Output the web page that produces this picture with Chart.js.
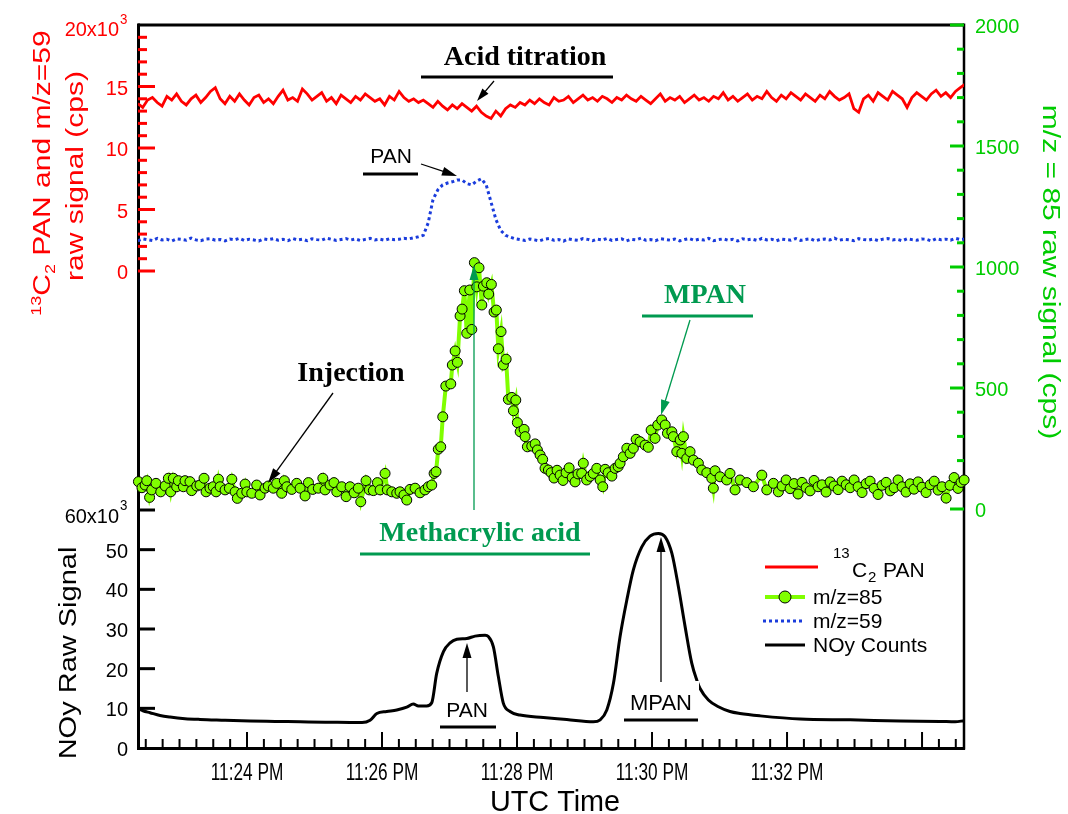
<!DOCTYPE html>
<html><head><meta charset="utf-8">
<script src="https://cdn.jsdelivr.net/npm/chart.js@4.4.0/dist/chart.umd.min.js"></script>
<style>html,body{margin:0;padding:0;background:#fff;}canvas{display:block;}</style>
</head><body>
<canvas id="c" width="1068" height="814"></canvas>
<script>
// time axis: seconds after 11:22:00 PM UTC
const timeTickValues = [120, 240, 360, 480, 600];
const timeTickLabels = ['11:24 PM', '11:26 PM', '11:28 PM', '11:30 PM', '11:32 PM'];
const redTickValues = [0, 5, 10, 15, 20];          // x10^3 cps
const redTickLabels = ['0', '5', '10', '15', '20x10'];
const noyTickValues = [0, 10, 20, 30, 40, 50, 60]; // x10^3
const noyTickLabels = ['0', '10', '20', '30', '40', '50', '60x10'];
const greenTickValues = [0, 500, 1000, 1500, 2000];
const greenTickLabels = ['0', '500', '1000', '1500', '2000'];

// 13C2 PAN and m/z=59 (CIMS), seconds after 23:22:00
const cimsTime = [23.0,27.3,31.6,35.9,40.2,44.5,48.8,53.1,57.4,61.7,66.0,70.3,74.6,78.9,83.2,87.5,91.8,96.1,100.4,104.7,
109.0,113.3,117.6,121.9,126.2,130.5,134.8,139.1,143.4,147.7,152.0,156.3,160.6,164.9,169.2,173.5,177.8,182.1,186.4,190.7,
195.0,199.3,203.6,207.9,212.2,216.5,220.8,225.1,229.4,233.7,238.0,242.3,246.6,250.9,255.2,259.5,263.8,268.1,272.4,276.7,
281.0,285.3,289.6,293.9,298.2,302.5,306.8,311.1,315.4,319.7,324.0,328.3,332.6,336.9,341.2,345.5,349.8,354.1,358.4,362.7,
367.0,371.3,375.6,379.9,384.2,388.5,392.8,397.1,401.4,405.7,410.0,414.3,418.6,422.9,427.2,431.5,435.8,440.1,444.4,448.7,
453.0,457.3,461.6,465.9,470.2,474.5,478.8,483.1,487.4,491.7,496.0,500.3,504.6,508.9,513.2,517.5,521.8,526.1,530.4,534.7,
539.0,543.3,547.6,551.9,556.2,560.5,564.8,569.1,573.4,577.7,582.0,586.3,590.6,594.9,599.2,603.5,607.8,612.1,616.4,620.7,
625.0,629.3,633.6,637.9,642.2,646.5,650.8,655.1,659.4,663.7,668.0,672.3,676.6,680.9,685.2,689.5,693.8,698.1,702.4,706.7,
711.0,715.3,719.6,723.9,728.2,732.5,736.8,741.1,745.4,749.7,754.0,758.3];
const pan13C2 = [
13.6,13.3,13.9,14.1,13.7,13.4,14.2,13.9,14.4,13.8,13.5,14.0,14.3,13.7,14.1,14.6,14.9,14.0,13.6,14.2,
13.8,14.4,13.9,13.5,14.1,14.3,13.7,14.0,13.6,14.2,14.7,13.9,14.1,13.8,14.8,14.4,13.9,14.2,14.5,13.8,
14.1,13.6,14.3,14.0,13.7,14.2,13.9,14.4,14.1,13.8,14.0,13.5,14.2,13.9,14.6,14.1,13.8,14.0,13.7,13.9,
13.6,13.3,13.8,13.4,13.1,13.5,13.2,13.6,13.3,13.0,13.4,12.9,12.6,12.4,13.0,12.6,13.2,13.5,13.3,13.7,
13.5,13.9,13.6,14.0,13.7,13.5,14.1,13.8,13.9,14.2,13.7,14.0,14.3,13.9,14.1,13.8,14.2,14.0,13.7,14.1,
13.9,14.3,14.0,13.8,14.2,13.9,13.6,14.0,14.4,13.8,14.1,13.9,14.2,13.7,14.0,14.3,13.9,14.1,13.8,14.2,
14.0,14.5,13.9,14.2,13.8,14.1,14.4,13.9,14.2,14.0,14.6,14.1,13.8,14.3,14.0,14.5,14.2,13.9,14.4,14.1,
13.8,14.3,14.0,14.6,14.2,13.9,14.1,14.4,13.2,12.9,14.0,14.3,13.8,14.5,14.2,13.9,14.6,14.3,14.0,13.3,
14.1,14.5,14.2,13.9,14.4,14.7,14.2,14.5,14.1,14.6,14.9,15.2];
const mz59 = [
2.45,2.62,2.55,2.48,2.66,2.52,2.58,2.44,2.61,2.57,2.50,2.68,2.53,2.47,2.59,2.63,2.51,2.56,2.45,2.60,
2.54,2.66,2.49,2.58,2.52,2.44,2.61,2.55,2.63,2.50,2.57,2.47,2.64,2.53,2.59,2.46,2.62,2.55,2.51,2.67,
2.58,2.49,2.56,2.63,2.52,2.60,2.48,2.57,2.65,2.53,2.59,2.50,2.62,2.55,2.58,2.66,2.61,2.70,2.78,2.90,
3.9,5.8,6.6,7.0,7.15,7.25,7.4,7.4,7.1,7.0,7.3,7.5,7.0,5.6,4.2,3.3,2.9,2.75,2.62,2.55,
2.48,2.60,2.53,2.45,2.58,2.64,2.50,2.56,2.43,2.61,2.54,2.49,2.63,2.57,2.46,2.59,2.52,2.65,2.48,2.56,
2.61,2.44,2.58,2.53,2.67,2.50,2.55,2.47,2.62,2.57,2.51,2.60,2.45,2.56,2.63,2.49,2.58,2.52,2.66,2.47,
2.55,2.61,2.50,2.57,2.44,2.62,2.54,2.59,2.48,2.65,2.53,2.58,2.46,2.60,2.55,2.51,2.64,2.49,2.57,2.62,
2.45,2.56,2.60,2.52,2.67,2.50,2.58,2.54,2.47,2.63,2.56,2.51,2.60,2.48,2.59,2.64,2.53,2.57,2.46,2.62,
2.55,2.50,2.61,2.58,2.45,2.63,2.54,2.59,2.51,2.66,2.56,2.60];

// m/z=85 (cps)
const mz85Time = [23.5,26.6,29.4,30.9,33.4,35.3,39.1,43.3,47.2,50.1,52.2,54.5,57.5,59.0,63.4,64.9,69.3,70.8,75.3,78.2,81.8,83.6,87.1,90.0,92.5,94.6,96.1,100.5,104.3,106.5,109.4,111.4,115.3,118.3,119.8,124.2,128.6,131.6,136.0,138.9,143.4,146.4,150.8,153.2,155.4,159.8,164.2,167.2,171.6,174.6,178.4,183.4,187.4,189.4,193.8,197.3,199.8,204.2,208.1,211.6,215.2,218.9,221.1,225.8,228.7,232.3,235.9,238.3,242.7,244.7,248.7,253.1,256.0,259.5,262.0,264.9,269.4,273.8,278.2,281.2,284.2,286.3,288.0,290.0,292.2,294.0,296.7,301.1,302.5,305.0,307.0,309.4,311.2,313.2,315.3,318.0,319.8,322.1,324.2,326.2,328.7,330.1,333.1,334.8,337.2,339.6,341.6,343.4,345.8,347.8,350.3,352.3,355.4,356.8,358.9,360.3,362.8,366.3,367.2,369.2,373.1,376.1,378.1,380.5,382.8,384.9,387.9,390.3,392.9,395.6,398.3,400.9,403.6,406.3,409.0,411.6,414.2,417.5,418.9,421.9,425.0,427.8,430.9,433.9,436.2,438.3,441.0,444.3,447.2,449.9,451.6,454.5,457.6,460.5,463.4,465.9,469.4,473.8,476.7,479.2,482.7,485.1,488.6,491.7,493.7,497.6,499.0,502.0,505.0,506.5,507.9,510.9,513.8,516.8,521.2,524.2,528.7,533.1,534.5,536.0,540.5,546.4,549.3,553.8,558.2,564.3,570.1,577.6,582.0,587.9,592.3,595.6,599.2,602.7,606.3,609.8,613.3,617.0,620.5,624.0,627.6,631.2,634.7,638.3,641.8,645.4,648.9,652.6,656.1,659.6,663.2,666.7,670.3,673.8,677.4,680.9,684.5,688.1,691.7,695.2,698.7,702.3,705.8,709.4,712.9,716.5,720.0,723.6,727.2,730.8,734.3,737.8,741.4,744.9,748.5,752.0,754.7,757.4];
const mz85 = [113,88,99,117,48,79,106,71,95,127,71,127,92,117,92,117,113,76,95,99,127,71,86,92,71,123,92,79,86,123,71,44,65,103,71,65,99,58,86,95,86,106,65,117,92,81,106,86,54,109,81,86,127,79,99,109,71,92,51,92,67,86,30,117,79,76,109,79,147,79,71,65,71,58,37,81,86,67,79,92,99,147,154,247,257,381,508,517,595,653,606,798,826,902,726,905,742,1018,918,997,843,921,935,888,928,814,822,662,733,595,619,453,461,406,450,357,319,329,299,257,260,269,244,223,205,168,161,150,128,160,140,118,150,170,130,112,145,147,189,120,135,147,168,120,92,164,150,136,168,175,189,216,251,230,251,288,278,264,255,326,292,347,368,347,313,319,299,237,285,230,299,209,237,202,189,161,150,127,86,158,133,120,147,79,120,109,92,140,79,106,71,95,120,84,105,62,110,88,75,118,92,100,70,112,95,80,115,100,88,120,92,68,105,115,85,60,98,110,75,88,120,92,70,104,82,112,90,68,100,115,78,92,45,98,130,85,110,120];

// NOy counts (x10^3)
const noyTime = [23.1,27.5,33.8,42.7,51.6,64.9,78.2,100.5,122.7,144.9,167.2,189.4,211.6,222.3,229.4,235.4,244.2,253.1,262.0,267.8,272.3,279.7,284.2,288.6,294.6,300.5,306.5,315.3,322.7,331.6,334.5,339.0,343.4,347.8,353.8,362.7,383.4,404.2,427.8,433.9,439.8,445.7,451.6,457.6,463.4,470.9,478.2,485.6,491.5,497.6,503.4,509.4,515.3,519.8,522.7,530.1,539.0,549.3,558.2,576.1,611.6,656.1,700.5,736.0,749.4,757.4];
const noyCounts = [9.9,9.4,8.9,8.2,7.8,7.4,7.2,7.0,6.8,6.7,6.6,6.5,6.45,6.4,7.0,8.7,9.2,9.6,10.3,11.1,10.6,10.6,11.4,18.8,24.3,26.5,27.4,27.6,28.2,28.4,28.1,25.5,18.0,11.3,9.2,8.3,7.7,7.2,6.6,7.1,9.6,16.3,28.1,37.3,44.9,50.7,53.4,54.1,53.3,49.1,40.7,30.6,21.4,17.1,15.0,12.1,10.4,9.2,8.7,8.1,7.3,7.1,6.8,6.7,6.6,6.9];

const pts = (t, v) => v.map((y, i) => ({x: t[i], y}));

const SANS = "'Liberation Sans', Arial, sans-serif";
const SERIF = "'Liberation Serif', 'Times New Roman', serif";
const RED = '#ff0000', GRN = '#00cc00', DKG = '#009a50', LIME = '#80ff00', BLUE = '#1a3cdc';

function seg(ctx, x1, y1, x2, y2) { ctx.beginPath(); ctx.moveTo(x1, y1); ctx.lineTo(x2, y2); ctx.stroke(); }
function text(ctx, s, x, y, font, color, align, sx, base) {
  ctx.save(); ctx.translate(x, y); ctx.scale(sx || 1, 1);
  ctx.font = font; ctx.fillStyle = color; ctx.textAlign = align || 'left';
  ctx.textBaseline = base || 'alphabetic'; ctx.fillText(s, 0, 0); ctx.restore();
}
function runs(ctx, rs, cx, cy, rot, sx, color) {
  ctx.save(); ctx.translate(cx, cy); ctx.scale(sx, 1); ctx.rotate(rot);
  ctx.fillStyle = color; ctx.textAlign = 'left'; ctx.textBaseline = 'alphabetic';
  let w = 0; rs.forEach(r => { ctx.font = r.f; r.w = ctx.measureText(r.t).width; w += r.w; });
  let x = -w / 2; rs.forEach(r => { ctx.font = r.f; ctx.fillText(r.t, x, r.dy || 0); x += r.w; });
  ctx.restore();
}
function arrow(ctx, x1, y1, x2, y2, color, lw, hl, hw) {
  const a = Math.atan2(y2 - y1, x2 - x1), c = Math.cos(a), s = Math.sin(a);
  ctx.save(); ctx.strokeStyle = color; ctx.fillStyle = color; ctx.lineWidth = lw;
  seg(ctx, x1, y1, x2 - c * hl * 0.8, y2 - s * hl * 0.8);
  ctx.beginPath(); ctx.moveTo(x2, y2);
  ctx.lineTo(x2 - c * hl - s * hw / 2, y2 - s * hl + c * hw / 2);
  ctx.lineTo(x2 - c * hl + s * hw / 2, y2 - s * hl - c * hw / 2);
  ctx.closePath(); ctx.fill(); ctx.restore();
}

const deco = {
  id: 'deco',
  beforeDatasetsDraw(chart) {
    const {ctx, chartArea: a, scales} = chart;
    const X = scales.x, R = scales.yR, N = scales.yN, G = scales.yG;
    ctx.save(); ctx.lineCap = 'butt';
    ctx.strokeStyle = '#000';
    ctx.lineWidth = 3; seg(ctx, a.left + 0.5, a.top - 1.5, a.left + 0.5, a.bottom + 1.5);
    seg(ctx, a.left - 1, a.bottom + 0.5, a.right + 1, a.bottom + 0.5);
    seg(ctx, a.left, a.top, a.right, a.top);
    ctx.lineWidth = 2.5; seg(ctx, a.right, a.top - 1.5, a.right, a.bottom + 1.5);
    ctx.strokeStyle = RED; ctx.lineWidth = 3;
    for (let v = 0; v < 20; v++) { const y = R.getPixelForValue(v); seg(ctx, a.left, y, a.left + (v % 5 === 0 ? 17 : 9), y); }
    ctx.strokeStyle = '#000';
    noyTickValues.forEach(v => { if (v > 0) { const y = N.getPixelForValue(v); seg(ctx, a.left, y, a.left + 17, y); } });
    ctx.lineWidth = 2;
    for (let s = 30; s <= X.max; s += 15) { const x = X.getPixelForValue(s); seg(ctx, x, a.bottom, x, a.bottom - (s % 120 === 0 ? 16 : 9)); }
    ctx.strokeStyle = GRN; ctx.lineWidth = 3;
    for (let v = 0; v <= 2000; v += 100) { const y = G.getPixelForValue(v); seg(ctx, a.right, y, a.right - (v % 500 === 0 ? 14 : 7), y); }
    ctx.restore();

    const tf = '21px ' + SANS;
    redTickValues.forEach((v, i) => {
      const y = R.getPixelForValue(v);
      if (i === redTickValues.length - 1) {
        text(ctx, redTickLabels[i], 119, y + 11, tf, RED, 'right', 0.95);
        text(ctx, '3', 120, y - 1, '14px ' + SANS, RED, 'left', 0.95);
      } else text(ctx, redTickLabels[i], 128, y + 8, tf, RED, 'right', 0.95);
    });
    noyTickValues.forEach((v, i) => {
      const y = N.getPixelForValue(v);
      if (i === noyTickValues.length - 1) {
        text(ctx, noyTickLabels[i], 119, y + 13, tf, '#000', 'right', 0.95);
        text(ctx, '3', 120, y, '14px ' + SANS, '#000', 'left', 0.95);
      } else text(ctx, noyTickLabels[i], 128, y + 8, tf, '#000', 'right', 0.95);
    });
    greenTickValues.forEach((v, i) => {
      text(ctx, greenTickLabels[i], 975, G.getPixelForValue(v) + 8, tf, GRN, 'left', 0.95);
    });
    timeTickValues.forEach((v, i) => {
      text(ctx, timeTickLabels[i], X.getPixelForValue(v), 780, '23px ' + SANS, '#000', 'center', 0.75);
    });

    const F = px => px + 'px ' + SANS;
    text(ctx, 'UTC Time', 555, 811, F(30), '#000', 'center', 0.96);
    runs(ctx, [{t: '13', f: F(18), dy: -11}, {t: 'C', f: F(30)}, {t: '2', f: F(18), dy: 6}, {t: ' PAN and m/z=59', f: F(30)}], 50, 173, -Math.PI / 2, 0.82, RED);
    runs(ctx, [{t: 'raw signal (cps)', f: F(30)}], 83, 176, -Math.PI / 2, 0.82, RED);
    runs(ctx, [{t: 'NOy Raw Signal', f: F(29)}], 76, 653, -Math.PI / 2, 0.82, '#000');
    runs(ctx, [{t: 'm/z = 85 raw signal (cps)', f: F(30)}], 1043, 272, Math.PI / 2, 0.82, GRN);
  },
  afterDatasetsDraw(chart) {
    const ctx = chart.ctx;
    ctx.save(); ctx.lineCap = 'butt';
    const BF = 'bold 28px ' + SERIF, SF = '21px ' + SANS;
    text(ctx, 'Acid titration', 525, 65, BF, '#000', 'center');
    ctx.strokeStyle = '#000'; ctx.lineWidth = 3; seg(ctx, 421, 77, 613, 77);
    arrow(ctx, 494, 81, 477, 101, '#000', 1.3, 13, 8);
    text(ctx, 'PAN', 391, 163, SF, '#000', 'center');
    ctx.lineWidth = 3; seg(ctx, 363, 174, 418, 174);
    arrow(ctx, 421, 164, 457, 176, '#000', 1.3, 15, 9);
    text(ctx, 'Injection', 351, 381, BF, '#000', 'center');
    arrow(ctx, 333, 393, 268, 483, '#000', 1.3, 15, 9);
    text(ctx, 'MPAN', 705, 303, BF, DKG, 'center');
    ctx.strokeStyle = DKG; ctx.lineWidth = 3; seg(ctx, 642, 316, 753, 316);
    arrow(ctx, 690, 320, 661, 415, DKG, 1.3, 15, 9);
    text(ctx, 'Methacrylic acid', 480, 541, BF, DKG, 'center');
    ctx.strokeStyle = DKG; ctx.lineWidth = 3; seg(ctx, 360, 554, 590, 554);
    arrow(ctx, 474, 510, 474, 265, DKG, 1.3, 15, 9);
    ctx.fillStyle = '#fff'; ctx.fillRect(440, 695, 57, 34);
    text(ctx, 'PAN', 467, 717, SF, '#000', 'center');
    ctx.strokeStyle = '#000'; ctx.lineWidth = 3; seg(ctx, 440, 727, 496, 727);
    arrow(ctx, 467, 692, 467, 643, '#000', 1.3, 15, 9);
    ctx.fillStyle = '#fff'; ctx.fillRect(622, 681, 77, 42);
    text(ctx, 'MPAN', 661, 710, '22px ' + SANS, '#000', 'center');
    ctx.strokeStyle = '#000'; ctx.lineWidth = 3; seg(ctx, 624, 720, 698, 720);
    arrow(ctx, 661, 682, 661, 537, '#000', 1.3, 15, 9);

    ctx.strokeStyle = RED; ctx.lineWidth = 3; seg(ctx, 765, 567, 818, 567);
    text(ctx, '13', 833, 558, '15px ' + SANS, '#000', 'left');
    text(ctx, 'C', 852, 577, SF, '#000', 'left');
    text(ctx, '2', 868, 582, '15px ' + SANS, '#000', 'left');
    text(ctx, 'PAN', 883, 577, SF, '#000', 'left');
    ctx.strokeStyle = LIME; ctx.lineWidth = 4; seg(ctx, 765, 597, 805, 597);
    ctx.beginPath(); ctx.arc(785, 597, 6, 0, Math.PI * 2); ctx.fillStyle = LIME; ctx.fill();
    ctx.strokeStyle = '#000'; ctx.lineWidth = 1; ctx.stroke();
    text(ctx, 'm/z=85', 813, 604, SF, '#000', 'left');
    ctx.strokeStyle = BLUE; ctx.lineWidth = 3; ctx.setLineDash([3, 3]); seg(ctx, 763, 621, 803, 621); ctx.setLineDash([]);
    text(ctx, 'm/z=59', 813, 628, SF, '#000', 'left');
    ctx.strokeStyle = '#000'; ctx.lineWidth = 3; seg(ctx, 765, 645, 805, 645);
    text(ctx, 'NOy Counts', 813, 652, SF, '#000', 'left');
    ctx.restore();
  }
};

new Chart(document.getElementById('c'), {
  type: 'line',
  data: {datasets: [
    {label: 'm/z=85', data: pts(mz85Time, mz85), yAxisID: 'yG', borderColor: LIME, borderWidth: 4,
     pointRadius: 5, pointBackgroundColor: LIME, pointBorderColor: '#000', pointBorderWidth: 1, clip: false, tension: 0},
    {label: '13C2 PAN', data: pts(cimsTime, pan13C2), yAxisID: 'yR', borderColor: RED, borderWidth: 2.8, pointRadius: 0, tension: 0},
    {label: 'm/z=59', data: pts(cimsTime, mz59), yAxisID: 'yR', borderColor: BLUE, borderWidth: 3, borderDash: [3, 3], pointRadius: 0, tension: 0},
    {label: 'NOy Counts', data: pts(noyTime, noyCounts), yAxisID: 'yN', borderColor: '#000', borderWidth: 3, pointRadius: 0, cubicInterpolationMode: 'monotone'}
  ]},
  options: {
    responsive: false, animation: false, events: [],
    layout: {padding: {left: 138, right: 104, top: 25, bottom: 66}},
    plugins: {legend: {display: false}, tooltip: {enabled: false}},
    scales: {
      x: {type: 'linear', min: 23.1, max: 757.3, display: false},
      yR: {type: 'linear', position: 'left', min: -38.78, max: 20, display: false},
      yN: {type: 'linear', position: 'left', min: 0, max: 182.27, display: false},
      yG: {type: 'linear', position: 'right', min: -987.6, max: 2000, display: false}
    }
  },
  plugins: [deco]
});
</script>
</body></html>
